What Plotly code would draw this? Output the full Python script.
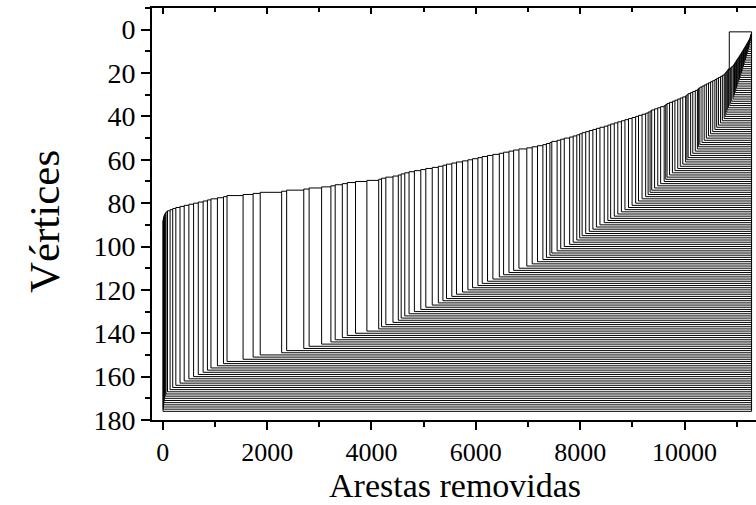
import plotly.graph_objects as go

# --- data -------------------------------------------------------------
# vertex positions (y) that split off one by one, bottom vertex first
split_vertex = list(range(176, 2, -1))
# number of removed edges at which each of those vertices splits off
split_x = [
    4, 8, 12, 17, 22, 28, 36, 48, 62, 90, 140, 190, 250, 330, 410, 500,
    590, 680, 773, 855, 923, 1047, 1163, 1231,
    1539, 1731, 1867, 2278, 2374, 2702, 2805, 3044, 3222, 3304, 3441, 3536,
    3694, 3912, 4138, 4193, 4275, 4412, 4514, 4569, 4638, 4720, 4822, 4945,
    5041, 5164, 5281, 5369, 5438, 5540, 5629, 5745, 5848, 5937, 6040, 6122,
    6224, 6327, 6450, 6532, 6635, 6724, 6826, 6977, 7080, 7182, 7285, 7353,
    7420, 7456, 7558, 7627, 7695, 7798, 7866, 7935, 7990, 8037, 8106, 8174,
    8243, 8311, 8379, 8461, 8530, 8584, 8653, 8721, 8790, 8858, 8926, 8995,
    9063, 9118, 9186, 9255, 9302, 9340, 9371, 9426, 9487, 9542, 9610, 9640,
    9665, 9713, 9768, 9816, 9870, 9918, 9966, 10021, 10045, 10069, 10117,
    10158, 10206, 10247, 10270, 10294, 10335, 10377, 10418, 10459, 10500,
    10541, 10582, 10616, 10650, 10691, 10725, 10760, 10778, 10794, 10812,
    10828, 10845,
    10868, 10885, 10905, 10930, 10945, 10958, 10972, 10985, 10998, 11010,
    11025, 11040, 11053, 11066, 11080, 11093, 11105, 11118, 11130, 11142,
    11155, 11167, 11180, 11192, 11203, 11215, 11226, 11237, 11248, 11256,
    11262, 11267, 11271,
]
# the top vertex leaves the main group here
top_vertex = 1
top_split_x = 10858
# end of the removal process
x_end = 11285

x_tick_vals = [0, 2000, 4000, 6000, 8000, 10000]
x_tick_text = ["0", "2000", "4000", "6000", "8000", "10000"]
y_tick_vals = [0, 20, 40, 60, 80, 100, 120, 140, 160, 180]
y_tick_text = ["0", "20", "40", "60", "80", "100", "120", "140", "160", "180"]

assert len(split_x) == len(split_vertex)

# --- build dendrogram segments ----------------------------------------
events = sorted(list(zip(split_x, split_vertex)) + [(top_split_x, top_vertex)])
members = set(range(1, 177))
xs, ys = [], []


def seg(x0, y0, x1, y1):
    xs.extend([x0, x1, None])
    ys.extend([y0, y1, None])


prev_x = None
for x, v in events:
    p_old = (min(members) + max(members)) / 2
    if prev_x is not None:
        seg(prev_x, p_old, x, p_old)
    members.discard(v)
    p_new = (min(members) + max(members)) / 2
    seg(x, p_new, x, v)
    seg(x, v, x_end, v)
    prev_x = x
last = (min(members) + max(members)) / 2
seg(prev_x, last, x_end, last)
seg(x_end, 1, x_end, 176)

fig = go.Figure()
fig.add_trace(go.Scatter(x=xs, y=ys, mode="lines",
                         line=dict(color="black", width=1),
                         hoverinfo="skip", showlegend=False))
# invisible trace to activate the top axis
fig.add_trace(go.Scatter(x=[0], y=[0], xaxis="x2", mode="markers",
                         marker=dict(opacity=0), showlegend=False,
                         hoverinfo="skip"))

font = "Liberation Serif, Times New Roman, serif"
fig.update_layout(
    width=756, height=505,
    margin=dict(l=152, r=0, t=8, b=85),
    paper_bgcolor="white", plot_bgcolor="white",
    font=dict(family=font, color="black"),
    xaxis=dict(
        range=[-207, 11370], tickmode="array", tickvals=x_tick_vals,
        ticktext=x_tick_text,
        ticks="outside", ticklen=8, tickwidth=1.5, tickcolor="black",
        minor=dict(dtick=1000, tick0=0, ticks="outside", ticklen=5,
                   tickwidth=1.5, tickcolor="black"),
        showline=True, linewidth=2, linecolor="black",
        showgrid=False, zeroline=False,
        tickfont=dict(size=26, family=font),
    ),
    xaxis2=dict(
        overlaying="x", matches="x", side="top", range=[-207, 11370],
        tickmode="array", tickvals=x_tick_vals,
        ticks="inside", ticklen=6, tickwidth=1.5, tickcolor="black",
        minor=dict(dtick=1000, tick0=0, ticks="inside", ticklen=4,
                   tickwidth=1.5, tickcolor="black"),
        showticklabels=False, showline=True, linewidth=2, linecolor="black",
        showgrid=False, zeroline=False,
    ),
    yaxis=dict(
        range=[180, -10], tickmode="array", tickvals=y_tick_vals,
        ticktext=y_tick_text,
        ticks="outside", ticklen=9, tickwidth=1.5, tickcolor="black",
        minor=dict(dtick=10, tick0=0, ticks="outside", ticklen=5,
                   tickwidth=1.5, tickcolor="black"),
        showline=True, linewidth=2, linecolor="black",
        showgrid=False, zeroline=False,
        tickfont=dict(size=28, family=font),
    ),
    annotations=[
        dict(text="Arestas removidas", xref="paper", yref="paper",
             x=0.5017, y=-0.1590, xanchor="center", yanchor="middle",
             showarrow=False, font=dict(size=34, family=font)),
        dict(text="Vértices", xref="paper", yref="paper",
             x=-0.177, y=0.4806, xanchor="center", yanchor="middle",
             textangle=-90, showarrow=False,
             font=dict(size=43, family=font)),
    ],
)

fig.write_html("out.html")
